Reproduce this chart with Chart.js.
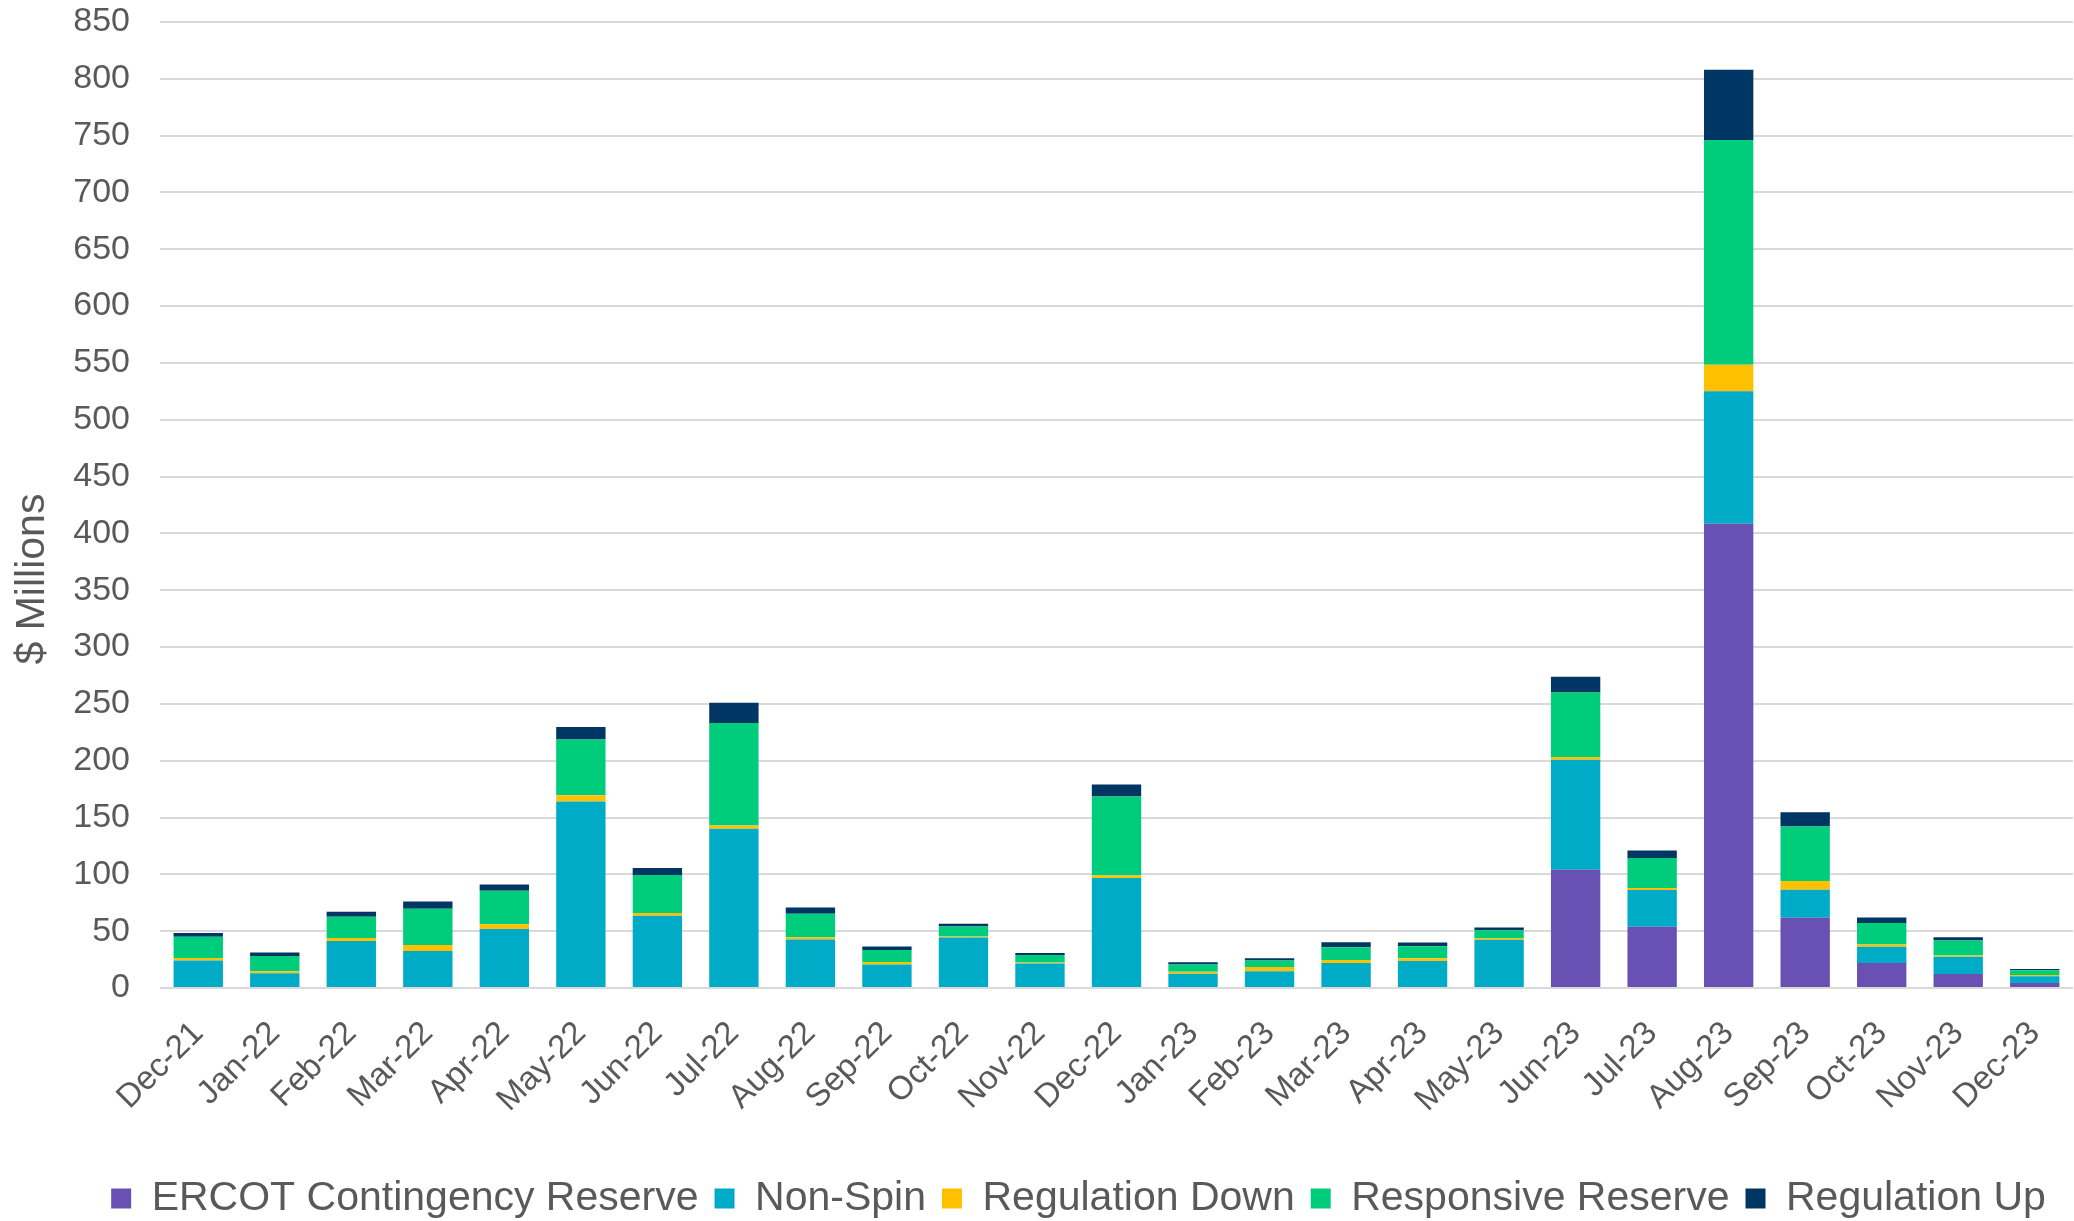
<!DOCTYPE html>
<html>
<head>
<meta charset="utf-8">
<script src="https://cdn.jsdelivr.net/npm/chart.js@4.4.1/dist/chart.umd.min.js"></script>
<style>
  html, body { margin: 0; padding: 0; background: #ffffff; }
  #wrap { width: 2074px; height: 1221px; position: relative; }
</style>
</head>
<body>
<div id="wrap"><canvas id="c" width="2074" height="1221"></canvas></div>
<script>
// Monthly ancillary service costs, $ millions
const months = ['Dec-21','Jan-22','Feb-22','Mar-22','Apr-22','May-22','Jun-22','Jul-22','Aug-22','Sep-22','Oct-22','Nov-22','Dec-22',
                'Jan-23','Feb-23','Mar-23','Apr-23','May-23','Jun-23','Jul-23','Aug-23','Sep-23','Oct-23','Nov-23','Dec-23'];

const ercotContingency = [0, 0, 0, 0, 0, 0, 0, 0, 0, 0, 0, 0, 0,
                          0, 0, 0, 0, 0, 104.1, 53.8, 408.5, 61.8, 22.1, 12.4, 4.4];
const nonSpin          = [24.1, 12.9, 41.4, 32.6, 52.0, 164.0, 63.5, 140.2, 42.6, 20.6, 44.4, 21.5, 96.8,
                          12.6, 14.7, 22.1, 23.8, 42.4, 96.8, 32.4, 116.7, 24.7, 14.1, 15.2, 5.9];
const regulationDown   = [2.4, 1.8, 2.7, 5.3, 4.2, 5.6, 2.6, 2.7, 2.1, 2.3, 0.9, 0.9, 2.3,
                          1.8, 3.8, 2.5, 2.4, 1.7, 2.3, 1.7, 23.2, 7.6, 2.0, 0.9, 1.2];
const responsive       = [18.5, 13.5, 18.5, 31.8, 29.3, 49.1, 33.3, 90.2, 20.6, 10.6, 8.8, 6.7, 69.4,
                          6.2, 5.6, 11.3, 10.6, 6.8, 56.8, 26.5, 197.8, 48.0, 18.9, 13.3, 4.1];
const regulationUp     = [3.5, 3.0, 4.4, 6.4, 5.6, 10.9, 6.1, 17.9, 5.6, 3.0, 2.4, 1.8, 10.6,
                          2.0, 2.1, 4.4, 3.2, 2.3, 13.8, 6.5, 61.7, 12.6, 5.0, 2.9, 1.2];

const seriesNames = ['ERCOT Contingency Reserve', 'Non-Spin', 'Regulation Down', 'Responsive Reserve', 'Regulation Up'];
const seriesColors = ['#6851B3', '#00ABC8', '#FFC000', '#00CD7C', '#003664'];
const seriesValues = [ercotContingency, nonSpin, regulationDown, responsive, regulationUp];

const yMin = 0, yMax = 850, yStep = 50;

const FONT = "'Liberation Sans', Arial, sans-serif";
const TEXT = '#595959';

const datasets = seriesNames.map((name, i) => ({
  label: name,
  data: seriesValues[i],
  backgroundColor: seriesColors[i],
  borderWidth: 0,
  barPercentage: 0.645,
  categoryPercentage: 1.0
}));

// Nudge the legend row right and down after layout
const legendShift = {
  id: 'legendShift',
  afterLayout(chart) {
    const lg = chart.legend;
    if (!lg) return;
    lg.left += 42; lg.right += 42;
    lg.top += 8; lg.bottom += 8;
  }
};

new Chart(document.getElementById('c'), {
  type: 'bar',
  data: { labels: months, datasets },
  plugins: [legendShift],
  options: {
    responsive: false,
    animation: false,
    layout: { padding: { top: 22, right: 1, left: 0, bottom: 0 } },
    plugins: {
      legend: {
        position: 'bottom',
        labels: {
          boxWidth: 20,
          boxHeight: 20,
          padding: 16,
          color: TEXT,
          font: { family: FONT, size: 41 }
        }
      },
      tooltip: { enabled: false }
    },
    scales: {
      x: {
        stacked: true,
        afterFit: (scale) => {
          scale.height = 166;
          scale.paddingLeft = 0;
          scale.paddingRight = 0;
        },
        grid: { display: false },
        border: { display: false },
        ticks: {
          color: TEXT,
          font: { family: FONT, size: 33 },
          maxRotation: 45,
          minRotation: 45,
          autoSkip: false,
          padding: 18
        }
      },
      y: {
        stacked: true,
        min: yMin,
        max: yMax,
        afterFit: (scale) => {
          scale.width = 160;
          scale.paddingTop = 0;
          scale.paddingBottom = 0;
        },
        grid: { color: '#D9D9D9', lineWidth: 2, drawTicks: false },
        border: { display: false },
        ticks: {
          stepSize: yStep,
          color: TEXT,
          font: { family: FONT, size: 34 },
          padding: 30
        },
        title: {
          display: true,
          text: '$ Millions' + ' '.repeat(13),
          color: TEXT,
          font: { family: FONT, size: 41 },
          padding: { top: 8, bottom: 0 }
        }
      }
    }
  }
});
</script>
</body>
</html>
